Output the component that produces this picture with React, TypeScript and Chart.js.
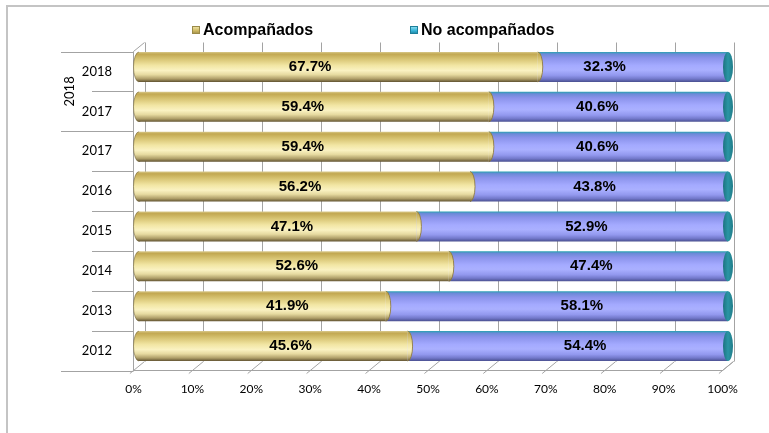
import React, { useEffect, useRef } from 'react';
import { Chart, registerables } from 'chart.js';

Chart.register(...registerables);

// ---- data ----
const categories = ['2018', '2017', '2017', '2016', '2015', '2014', '2013', '2012'];
const acompanados = [67.7, 59.4, 59.4, 56.2, 47.1, 52.6, 41.9, 45.6];
const noAcompanados = [32.3, 40.6, 40.6, 43.8, 52.9, 47.4, 58.1, 54.4];
const seriesNames = ['Acompañados', 'No acompañados'];
const xTickValues = [0, 10, 20, 30, 40, 50, 60, 70, 80, 90, 100];
const groupLabel = '2018';
const groupLastIndex = 1; // group "2018" spans categories 0..1

// ---- style / layout constants ----
const W = 769;
const H = 433;
const DX = 5.5; // half depth offset (x)
const DY = 4.5; // half depth offset (y)
const BAR_PCT = 0.75;
const LEFT_OUTER = 61;
const LEFT_INNER = 92;
const LEGEND_X = [192, 410];
const LEGEND_Y = 30;
const LABEL_ANCHOR = [27, 77];
const LABEL_PULL = 0.3;

const goldStops: [number, string][] = [
  [0, '#d8c88a'],
  [0.07, '#c2a852'],
  [0.22, '#d6c270'],
  [0.45, '#f2e6a4'],
  [0.62, '#faf2c2'],
  [0.76, '#e6daa0'],
  [0.9, '#ae9e68'],
  [1, '#625432'],
];
const blueStops: [number, string][] = [
  [0, '#2aa2b2'],
  [0.07, '#6c8ad8'],
  [0.2, '#8a92ea'],
  [0.45, '#a4aaff'],
  [0.6, '#aab0ff'],
  [0.78, '#9298ee'],
  [0.9, '#7278ca'],
  [1, '#4a5090'],
];

function makeGrad(chart: any, c: number, h: number, stops: [number, string][]) {
  const g = chart.ctx.createLinearGradient(0, c - h / 2, 0, c + h / 2);
  stops.forEach(([o, col]) => g.addColorStop(o, col));
  return g;
}

function scriptGrad(stops: [number, string][]) {
  return (ctx: any) => {
    const chart = ctx.chart;
    const ys = chart.scales && chart.scales.y;
    if (!ys || ctx.type !== 'data' || !ys.height) return stops[4][1];
    const c = ys.getPixelForValue(ctx.dataIndex);
    const h = (ys.height / categories.length) * BAR_PCT;
    return makeGrad(chart, c, h, stops);
  };
}

const decoPlugin = {
  id: 'deco3d',
  beforeDatasetsDraw(chart: any) {
    const { ctx } = chart;
    const x = chart.scales.x;
    const y = chart.scales.y;
    const n = categories.length;
    const slot = y.height / n;
    const top = y.top;
    const bottom = y.bottom;
    const x0 = x.getPixelForValue(0);
    const x1 = x.getPixelForValue(100);
    const line = (a: number, b: number, c: number, d: number) => {
      ctx.beginPath();
      ctx.moveTo(a, b);
      ctx.lineTo(c, d);
      ctx.stroke();
    };
    ctx.save();
    // outer border
    ctx.strokeStyle = '#c4c4c4';
    ctx.lineWidth = 2;
    ctx.strokeRect(7, 6, W + 20, H + 20);

    ctx.lineWidth = 1;
    ctx.strokeStyle = '#a3a3a3';
    // back wall gridlines
    for (const t of xTickValues) {
      const px = Math.round(x.getPixelForValue(t) + DX) + 0.5;
      line(px, top - DY, px, bottom - DY);
    }
    // left wall edges
    line(x0 - DX, top + DY, x0 - DX, bottom + DY);
    line(x0 - DX, top + DY, x0 + DX, top - DY);
    // floor front and right edges
    line(x0 - DX, bottom + DY, x1 - DX, bottom + DY);
    line(x1 - DX, bottom + DY, x1 + DX, bottom - DY);
    // floor diagonal ticks
    for (const t of xTickValues) {
      const px = x.getPixelForValue(t);
      line(px - DX - 3.6, bottom + DY + 3, px + DX, bottom - DY);
    }
    // category separator lines (two-level axis)
    for (let k = 0; k <= n; k++) {
      const yy = Math.round(top + k * slot + DY) + 0.5;
      const outer = k === 0 || k === groupLastIndex + 1 || k === n;
      line(outer ? LEFT_OUTER : LEFT_INNER, yy, x0 - DX, yy);
    }
    // group label
    const gy = top + DY + ((groupLastIndex + 1) * slot) / 2;
    ctx.translate((LEFT_OUTER + LEFT_INNER) / 2 - 7, gy);
    ctx.rotate(-Math.PI / 2);
    ctx.fillStyle = '#000';
    ctx.font = '13px Lato';
    ctx.textAlign = 'center';
    ctx.textBaseline = 'middle';
    ctx.fillText(groupLabel, 0, 0);
    ctx.restore();
  },
  afterDatasetsDraw(chart: any) {
    const { ctx } = chart;
    const x = chart.scales.x;
    const m0 = chart.getDatasetMeta(0);
    const m1 = chart.getDatasetMeta(1);
    ctx.save();
    m0.data.forEach((el: any) => {
      const h = el.height;
      const cy = el.y;
      const g = makeGrad(chart, cy, h, goldStops);
      // left rounded end
      ctx.beginPath();
      ctx.ellipse(el.base, cy, DX, h / 2, 0, 0, Math.PI * 2);
      ctx.fillStyle = g;
      ctx.fill();
      ctx.beginPath();
      ctx.ellipse(el.base, cy, DX, h / 2, 0, Math.PI / 2, Math.PI * 1.5);
      ctx.strokeStyle = 'rgba(110,95,50,0.55)';
      ctx.lineWidth = 1;
      ctx.stroke();
      // right end (bulge into the next segment)
      ctx.beginPath();
      ctx.ellipse(el.x, cy, DX - 0.5, h / 2, 0, -Math.PI / 2, Math.PI / 2);
      ctx.fillStyle = g;
      ctx.fill();
      ctx.strokeStyle = 'rgba(140,120,60,0.85)';
      ctx.stroke();
    });
    m1.data.forEach((el: any) => {
      const h = el.height;
      const cy = el.y;
      const g = ctx.createLinearGradient(el.x - DX, 0, el.x + DX, 0);
      g.addColorStop(0, '#1b6f7c');
      g.addColorStop(0.5, '#2a95a4');
      g.addColorStop(1, '#1f7a86');
      ctx.beginPath();
      ctx.ellipse(el.x, cy, DX - 0.5, h / 2, 0, 0, Math.PI * 2);
      ctx.fillStyle = g;
      ctx.fill();
    });
    // data labels
    ctx.fillStyle = '#000';
    ctx.font = 'bold 15px "Liberation Sans", Arial, sans-serif';
    ctx.textAlign = 'center';
    ctx.textBaseline = 'middle';
    const series = [acompanados, noAcompanados];
    [m0, m1].forEach((meta: any, d: number) => {
      meta.data.forEach((el: any, i: number) => {
        const start = d === 0 ? 0 : acompanados[i];
        const v = series[d][i];
        const cv = start + v / 2;
        const lv = LABEL_ANCHOR[d] + LABEL_PULL * (cv - LABEL_ANCHOR[d]);
        ctx.fillText(v.toFixed(1) + '%', x.getPixelForValue(lv), el.y);
      });
    });
    ctx.restore();
  },
  afterDraw(chart: any) {
    const { ctx } = chart;
    ctx.save();
    const markerFills = [
      ['#f4eab0', '#cdb760', '#9a8a48'],
      ['#9ae6f6', '#35b2d6', '#1d7f9a'],
    ];
    seriesNames.forEach((name, i) => {
      const mx = LEGEND_X[i];
      const g = ctx.createLinearGradient(0, LEGEND_Y - 4, 0, LEGEND_Y + 4);
      g.addColorStop(0, markerFills[i][0]);
      g.addColorStop(0.6, markerFills[i][1]);
      g.addColorStop(1, markerFills[i][2]);
      ctx.fillStyle = g;
      ctx.fillRect(mx, LEGEND_Y - 4, 8, 8);
      ctx.strokeStyle = markerFills[i][2];
      ctx.lineWidth = 1;
      ctx.strokeRect(mx + 0.5, LEGEND_Y - 3.5, 7, 7);
      ctx.fillStyle = '#000';
      ctx.font = 'bold 16px "Liberation Sans", Arial, sans-serif';
      ctx.textAlign = 'left';
      ctx.textBaseline = 'middle';
      ctx.fillText(name, mx + 11, LEGEND_Y + 0.5);
    });
    ctx.restore();
  },
};

export default function App() {
  const ref = useRef<HTMLCanvasElement | null>(null);
  useEffect(() => {
    if (!ref.current) return;
    const chart = new Chart(ref.current, {
      type: 'bar',
      data: {
        labels: categories,
        datasets: [
          {
            label: seriesNames[0],
            data: acompanados,
            backgroundColor: scriptGrad(goldStops) as any,
            borderWidth: 0,
            barPercentage: BAR_PCT,
            categoryPercentage: 1,
          },
          {
            label: seriesNames[1],
            data: noAcompanados,
            backgroundColor: scriptGrad(blueStops) as any,
            borderWidth: 0,
            barPercentage: BAR_PCT,
            categoryPercentage: 1,
          },
        ],
      },
      options: {
        indexAxis: 'y',
        animation: false,
        responsive: false,
        devicePixelRatio: 1,
        layout: { padding: { left: 0, top: 47, right: 41, bottom: 0 } },
        plugins: {
          legend: { display: false },
          tooltip: { enabled: false },
        },
        scales: {
          x: {
            stacked: true,
            min: 0,
            max: 100,
            grid: { display: false },
            border: { display: false },
            afterFit: (s: any) => {
              s.height = 67;
            },
            afterBuildTicks: (s: any) => {
              s.ticks = xTickValues.map((v) => ({ value: v }));
            },
            ticks: {
              callback: (v: any) => v + '%',
              font: { family: 'Lato', size: 12 },
              color: '#000',
              padding: 8,
              labelOffset: -DX,
              maxRotation: 0,
            },
          },
          y: {
            stacked: true,
            grid: { display: false },
            border: { display: false },
            afterFit: (s: any) => {
              s.width = 139;
            },
            ticks: {
              font: { family: 'Lato', size: 13 },
              color: '#000',
              padding: 19,
              labelOffset: DY,
            },
          },
        },
      },
      plugins: [decoPlugin],
    });
    return () => chart.destroy();
  }, []);
  return (
    <div style={{ position: 'absolute', left: 0, top: 0, width: W, height: H, background: '#fff' }}>
      <canvas ref={ref} width={W} height={H} style={{ display: 'block' }} />
    </div>
  );
}
